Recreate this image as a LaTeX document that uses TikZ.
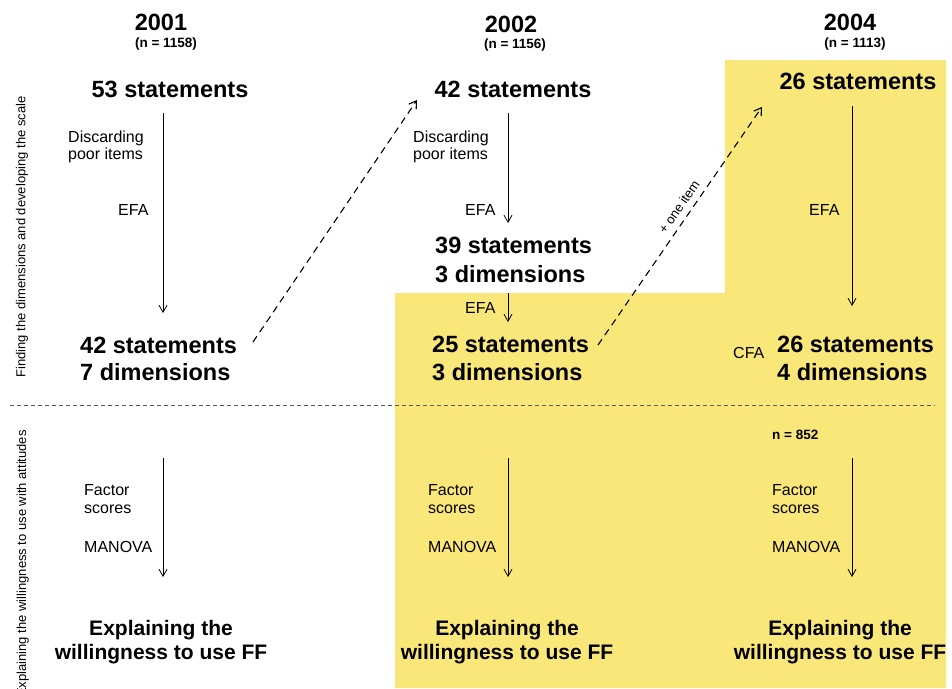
\documentclass[tikz,border=0pt]{standalone}
\usepackage{fontspec}
\setmainfont{Liberation Sans}
\usetikzlibrary{arrows.meta}
\definecolor{hl}{RGB}{250,231,122}
\begin{document}
\begin{tikzpicture}[x=1pt,y=-1pt,
  big/.style={font=\fontsize{23.5}{28}\selectfont\bfseries, inner sep=0pt},
  foot/.style={font=\fontsize{21}{25}\selectfont\bfseries, inner sep=0pt},
  small/.style={font=\fontsize{13.5}{16}\selectfont\bfseries, inner sep=0pt},
  lab/.style={font=\fontsize{16}{18}\selectfont, inner sep=0pt},
  side/.style={font=\fontsize{13}{15}\selectfont, inner sep=0pt, rotate=90},
  arr/.style={line width=0.8pt, -{Straight Barb[length=7pt,width=8pt]}},
  darr/.style={line width=1.1pt, dash pattern=on 7pt off 5pt, -{Straight Barb[length=7pt,width=9pt]}},
  sep/.style={line width=0.6pt, black!65, dash pattern=on 4pt off 3pt},
]
\useasboundingbox (0,0) rectangle (952,688);
\clip (0,0) rectangle (952,688);

% highlighted region (2002 final stage and all of 2004)
\fill[hl] (395,293) -- (725,293) -- (725,60) -- (946,60) -- (946,688) -- (395,688) -- cycle;

% phase separator
\coordinate (sepL) at (10,405);
\coordinate (sepR) at (935,405);
\draw[sep] (sepL) -- (sepR);

% phase labels
\node[side, anchor=center] (phaseA) at (22,237) {Finding the dimensions and developing the scale};
\node[side, anchor=base east] (phaseB) at (26,430) {Explaining the willingness to use with attitudes};

% ---------------- 2001 ----------------
\node[big, anchor=base] (y1) at (161,30) {2001};
\node[small, anchor=base] (n1) at (166,47) {(n = 1158)};
\node[big, anchor=base] (a1) at (170,97) {53 statements};
\node[lab, anchor=base west] (a1d1) at (68,142) {Discarding};
\node[lab, anchor=base west] (a1d2) at (68,159) {poor items};
\node[lab, anchor=base west] (a1e) at (118,215) {EFA};
\node[big, anchor=base west] (b1a) at (80,353) {42 statements};
\node[big, anchor=base west] (b1b) at (80,380) {7 dimensions};
\coordinate (c1t) at (163,113);
\coordinate (c1b) at (163,313);
\draw[arr] (c1t) -- (c1b);

% ---------------- 2002 ----------------
\node[big, anchor=base] (y2) at (511,32) {2002};
\node[small, anchor=base] (n2) at (515,48) {(n = 1156)};
\node[big, anchor=base] (a2) at (513,97) {42 statements};
\node[lab, anchor=base west] (a2d1) at (413,142) {Discarding};
\node[lab, anchor=base west] (a2d2) at (413,159) {poor items};
\node[lab, anchor=base west] (a2e) at (465,215) {EFA};
\node[big, anchor=base west] (m2a) at (435,253) {39 statements};
\node[big, anchor=base west] (m2b) at (435,282) {3 dimensions};
\node[lab, anchor=base west] (m2e) at (465,313) {EFA};
\node[big, anchor=base west] (b2a) at (432,352) {25 statements};
\node[big, anchor=base west] (b2b) at (432,380) {3 dimensions};
\coordinate (c2t) at (508,113);
\coordinate (c2m) at (508,223);
\coordinate (c2u) at (508,293);
\coordinate (c2b) at (508,322);
\draw[arr] (c2t) -- (c2m);
\draw[arr] (c2u) -- (c2b);

% ---------------- 2004 ----------------
\node[big, anchor=base] (y3) at (850,30) {2004};
\node[small, anchor=base] (n3) at (855,47) {(n = 1113)};
\node[big, anchor=base] (a3) at (858,89) {26 statements};
\node[lab, anchor=base west] (a3e) at (809,215) {EFA};
\node[lab, anchor=base west] (cfa) at (733,358) {CFA};
\node[big, anchor=base west] (b3a) at (777,352) {26 statements};
\node[big, anchor=base west] (b3b) at (777,380) {4 dimensions};
\coordinate (c3t) at (852,106);
\coordinate (c3b) at (852,306);
\draw[arr] (c3t) -- (c3b);

% carrying the item pool forward to the next wave
\coordinate (d1s) at (253,342);
\coordinate (d1e) at (417,100);
\draw[darr] (d1s) -- (d1e);
\coordinate (d2s) at (598,345);
\coordinate (d2e) at (762,107);
\draw[darr] (d2s) -- (d2e);
\node[font=\fontsize{13}{15}\selectfont, inner sep=0pt, rotate=55.4] (plus) at (679,207) {+ one item};

% ---------------- attitude models ----------------
\node[small, anchor=base west] (n4) at (772,439) {n = 852};

\foreach \cx/\lx/\fx/\id in {163/84/161/1, 508/428/507/2, 852/772/840/3}{
  \node[lab, anchor=base west] (f\id a) at (\lx,495) {Factor};
  \node[lab, anchor=base west] (f\id b) at (\lx,513) {scores};
  \node[lab, anchor=base west] (f\id m) at (\lx,552) {MANOVA};
  \coordinate (g\id t) at (\cx,458);
  \coordinate (g\id b) at (\cx,577);
  \draw[arr] (g\id t) -- (g\id b);
  \node[foot, anchor=base] (e\id a) at (\fx,635) {Explaining the};
  \node[foot, anchor=base] (e\id b) at (\fx,659) {willingness to use FF};
}
\end{tikzpicture}
\end{document}
